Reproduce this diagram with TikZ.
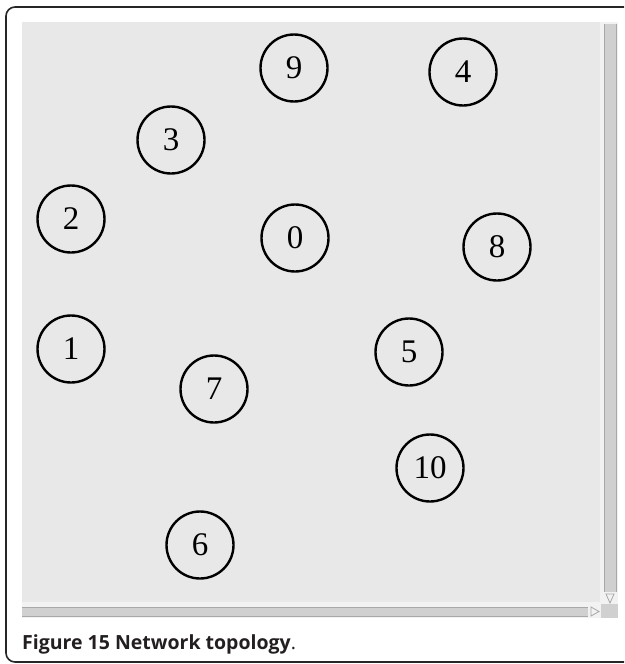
\documentclass[tikz,border=0pt]{standalone}
\usepackage{fontspec}
\setmainfont{Liberation Serif}
\newfontfamily\capfont{Open Sans}
\usetikzlibrary{positioning}

\definecolor{panelgray}{HTML}{E8E8E8}
\definecolor{bargray}{HTML}{D0D0D0}
\definecolor{edgegray}{HTML}{A8A8A8}
\definecolor{captext}{HTML}{231F20}

\begin{document}
\begin{tikzpicture}[x=1pt, y=-1pt,
    host/.style={circle, draw, line width=2.4pt, minimum size=67pt, inner sep=0pt,
                 font=\fontsize{33}{33}\selectfont}]
\useasboundingbox (0,0) rectangle (624,664);
\clip (0,0) rectangle (624,664);
% Frame
\draw[line width=1.6pt, rounded corners=9pt, black!85] (6,7) rectangle (660,662);
% Panel and scrollbars
\fill[panelgray] (22,22) rectangle (600,602);
\fill[white!95!black] (600,22) rectangle (618,618);
\fill[bargray] (604,24) rectangle (616,592);
\draw[edgegray, line width=0.8pt] (604,24) -- (604,592) (616,24) -- (616,592);
\fill[white!95!black] (22,602) rectangle (600,618);
\fill[bargray] (22,607) rectangle (588,616);
\draw[edgegray, line width=0.8pt] (22,607) -- (588,607) (22,616) -- (588,616);
\draw[edgegray, line width=0.8pt] (606,594) -- (614,594) -- (610,603) -- cycle;
\draw[edgegray, line width=0.8pt] (591,607) -- (599,611.5) -- (591,616) -- cycle;
\fill[bargray] (601,604) rectangle (618,618);
% Hosts
\foreach \id/\px/\py in {9/294/68, 4/463/72, 3/171/140, 2/71/219, 0/295/238,
                         8/497/247, 1/71/349, 5/409/352, 7/214/389, 10/430/468, 6/200/545} {
    \node[host] (n\id) at (\px,\py) {\id};
}
% Caption
\node[anchor=base west, inner sep=0pt, text=captext, font=\capfont\fontsize{19.5}{19.5}\selectfont]
    (cap) at (22,649) {\textbf{Figure 15 Network topology}.};
\end{tikzpicture}
\end{document}
